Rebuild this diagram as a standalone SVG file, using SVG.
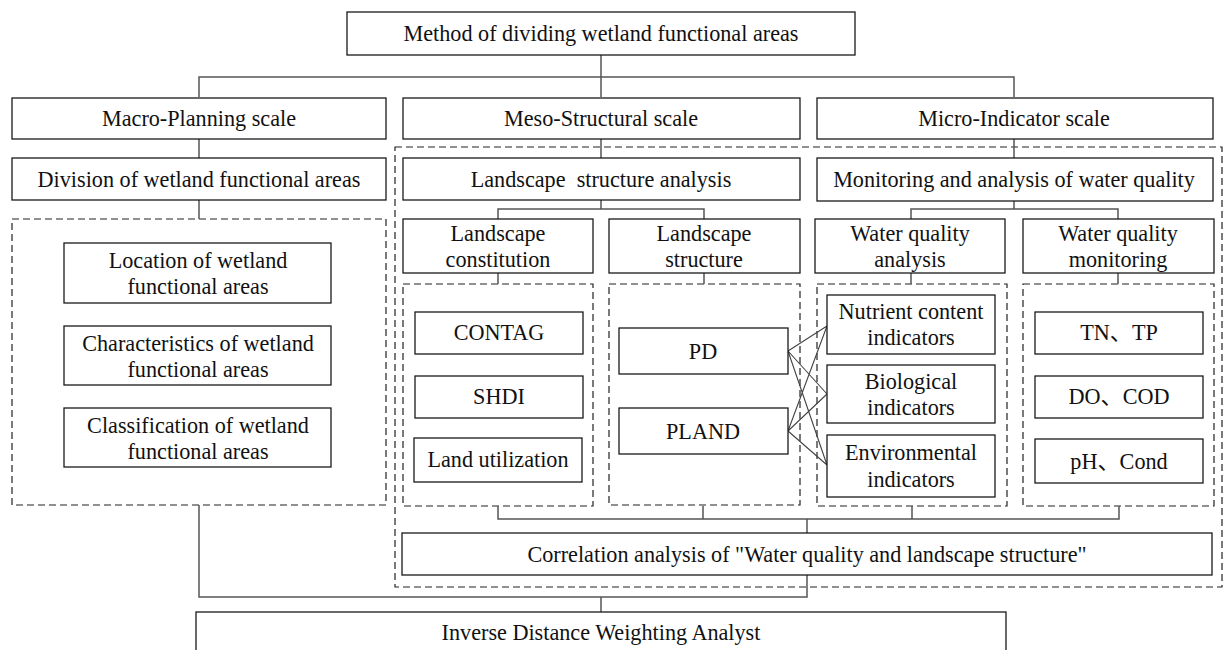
<svg xmlns="http://www.w3.org/2000/svg" width="1224" height="650" viewBox="0 0 1224 650">
<style>
.box{fill:#fff;stroke:#1a1a1a;stroke-width:1.3}
.dash{fill:none;stroke:#222;stroke-width:1.2;stroke-dasharray:7,4}
.con{fill:none;stroke:#555;stroke-width:1.5}
.x{fill:none;stroke:#444;stroke-width:1.1}
text{font-family:"Liberation Serif","Times New Roman","Noto Sans CJK SC",serif;font-size:22.2px;fill:#111;text-anchor:middle}
</style>
<rect width="1224" height="650" fill="#fff"/>
<g id="containers">
<rect class="dash" x="12" y="219" width="374" height="286"/>
<rect class="dash" x="395" y="147" width="827" height="440"/>
<rect class="dash" x="403" y="284" width="190" height="222"/>
<rect class="dash" x="609" y="284" width="191" height="221"/>
<rect class="dash" x="817" y="284" width="190" height="222"/>
<rect class="dash" x="1023" y="284" width="191" height="222"/>
</g>
<g id="connectors">
<path class="con" d="M601 55V97M199 97V77H1014V97"/>
<path class="con" d="M199 139V158M199 200V219"/>
<path class="con" d="M601 139V158M1014 139V158"/>
<path class="con" d="M601 200V209M498 219V209H704V219"/>
<path class="con" d="M1014 201V209M911 219V209H1118V219"/>
<path class="con" d="M498 273V284M704 273V284M911 273V284M1118 273V284"/>
<path class="con" d="M498 506V519H1119V506M703 506V519M912 506V519M807 519V533"/>
<path class="con" d="M807 575V597H199V505M601 597V612"/>
<path class="x" d="M788 351L827 326M788 351L827 394M788 351L827 465M788 431L827 326M788 431L827 394M788 431L827 465"/>
</g>
<g id="method"><rect class="box" x="347" y="12" width="508" height="43"/><text x="601" y="41">Method of dividing wetland functional areas</text></g>
<g id="macro"><rect class="box" x="12" y="98" width="374" height="41"/><text x="199" y="126">Macro-Planning scale</text></g>
<g id="meso"><rect class="box" x="403" y="98" width="397" height="41"/><text x="601" y="126">Meso-Structural scale</text></g>
<g id="micro"><rect class="box" x="817" y="98" width="396" height="41"/><text x="1014" y="126">Micro-Indicator scale</text></g>
<g id="division"><rect class="box" x="12" y="158" width="374" height="42"/><text x="199" y="187">Division of wetland functional areas</text></g>
<g id="landscape-analysis"><rect class="box" x="403" y="158" width="397" height="42"/><text x="601" y="187" xml:space="preserve">Landscape  structure analysis</text></g>
<g id="monitoring"><rect class="box" x="817" y="158" width="396" height="43"/><text x="1014" y="187">Monitoring and analysis of water quality</text></g>
<g id="location"><rect class="box" x="64" y="243" width="267" height="60"/><text x="198" y="268">Location of wetland</text><text x="198" y="294">functional areas</text></g>
<g id="characteristics"><rect class="box" x="64" y="326" width="267" height="59"/><text x="198" y="351">Characteristics of wetland</text><text x="198" y="377">functional areas</text></g>
<g id="classification"><rect class="box" x="64" y="408" width="267" height="59"/><text x="198" y="433">Classification of wetland</text><text x="198" y="459">functional areas</text></g>
<g id="landscape-constitution"><rect class="box" x="403" y="219" width="190" height="54"/><text x="498" y="241">Landscape</text><text x="498" y="267">constitution</text></g>
<g id="landscape-structure"><rect class="box" x="609" y="219" width="191" height="54"/><text x="704" y="241">Landscape</text><text x="704" y="267">structure</text></g>
<g id="wq-analysis"><rect class="box" x="815" y="219" width="190" height="54"/><text x="910" y="241">Water quality</text><text x="910" y="267">analysis</text></g>
<g id="wq-monitoring"><rect class="box" x="1023" y="219" width="191" height="54"/><text x="1118" y="241">Water quality</text><text x="1118" y="267">monitoring</text></g>
<g id="contag"><rect class="box" x="415" y="312" width="168" height="42"/><text x="499" y="340">CONTAG</text></g>
<g id="shdi"><rect class="box" x="415" y="376" width="168" height="42"/><text x="499" y="404">SHDI</text></g>
<g id="land-utilization"><rect class="box" x="414" y="438" width="168" height="44"/><text x="498" y="467">Land utilization</text></g>
<g id="pd"><rect class="box" x="619" y="328" width="169" height="46"/><text x="703" y="359">PD</text></g>
<g id="pland"><rect class="box" x="619" y="408" width="169" height="46"/><text x="703" y="439">PLAND</text></g>
<g id="nutrient"><rect class="box" x="827" y="295" width="168" height="59"/><text x="911" y="319">Nutrient content</text><text x="911" y="345">indicators</text></g>
<g id="biological"><rect class="box" x="827" y="365" width="168" height="58"/><text x="911" y="389">Biological</text><text x="911" y="415">indicators</text></g>
<g id="environmental"><rect class="box" x="827" y="435" width="168" height="62"/><text x="911" y="460">Environmental</text><text x="911" y="487">indicators</text></g>
<g id="tntp"><rect class="box" x="1035" y="312" width="168" height="42"/><text x="1119" y="340">TN、TP</text></g>
<g id="docod"><rect class="box" x="1035" y="376" width="168" height="42"/><text x="1119" y="404">DO、COD</text></g>
<g id="phcond"><rect class="box" x="1035" y="439" width="168" height="44"/><text x="1119" y="469">pH、Cond</text></g>
<g id="correlation"><rect class="box" x="402" y="533" width="810" height="42"/><text x="807" y="562">Correlation analysis of "Water quality and landscape structure"</text></g>
<g id="idw"><rect class="box" x="196" y="612" width="810" height="50"/><text x="601" y="640">Inverse Distance Weighting Analyst</text></g>
</svg>
